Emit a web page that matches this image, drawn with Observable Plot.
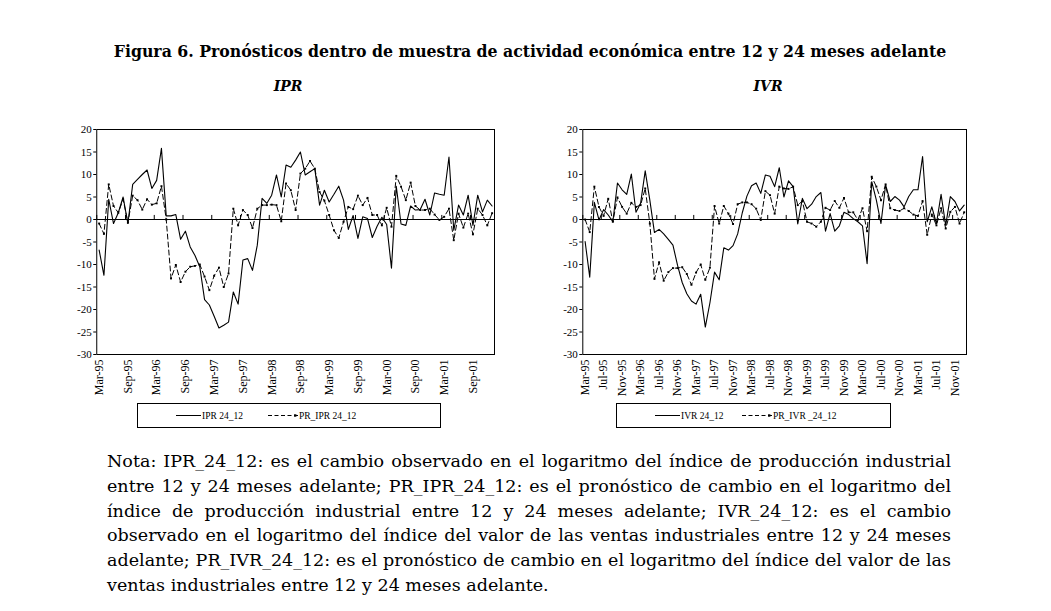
<!DOCTYPE html>
<html>
<head>
<meta charset="utf-8">
<script src="https://cdn.jsdelivr.net/npm/d3@7"></script>
<script src="https://cdn.jsdelivr.net/npm/@observablehq/plot@0.6"></script>
<style>
  html, body { margin: 0; padding: 0; background: #fff; }
  body { width: 1051px; height: 611px; position: relative; overflow: hidden; color: #000; }
  .abs { position: absolute; }
  #title { left: 60px; width: 940px; top: 42px; text-align: center; font-family: "DejaVu Serif", serif; font-weight: bold; font-size: 17px; line-height: 20px; white-space: nowrap; }
  .sub { top: 78px; width: 100px; text-align: center; font-family: "DejaVu Serif", serif; font-style: italic; font-weight: bold; font-size: 14px; line-height: 16px; }
  #note { left: 107px; top: 449px; width: 844px; font-family: "DejaVu Serif", serif; font-size: 17.5px; line-height: 24.8px; }
  #note div { text-align: justify; text-align-last: justify; }
  #note div.last { text-align-last: left; }
  .legend { border: 1px solid #000; box-sizing: border-box; height: 25px; top: 403px; background: #fff; }
  .legend svg { display: block; }
</style>
</head>
<body>
<div id="title" class="abs">Figura 6. Pronósticos dentro de muestra de actividad económica entre 12 y 24 meses adelante</div>
<div class="abs sub" style="left:238px">IPR</div>
<div class="abs sub" style="left:718px">IVR</div>
<div id="chartL" class="abs" style="left:40px; top:115px; width:470px; height:290px"></div>
<div id="chartR" class="abs" style="left:525px; top:115px; width:460px; height:290px"></div>
<div id="legL" class="abs legend" style="left:137px; width:304px"></div>
<div id="legR" class="abs legend" style="left:616px; width:275px"></div>
<div id="note" class="abs"></div>

<script>
// ---- data (monthly, Mar-95 .. Jan-02) ----
const ipr = [-6.8, -12.4, 4.5, -0.9, 1.5, 5.0, -0.9, 7.8, 8.9, 10.0,
  11.0, 6.9, 8.7, 15.8, 0.8, 0.8, 1.1, -4.4, -2.6, -6.1,
  -8.0, -10.5, -17.8, -19.0, -21.5, -24.1, -23.5, -22.8, -16.1, -18.8,
  -9.0, -8.7, -11.3, -5.7, 4.7, 3.6, 5.4, 9.9, 5.0, 12.1,
  11.6, 13.2, 15.0, 9.9, 10.6, 11.3, 3.2, 6.5, 3.9, 5.6,
  7.4, 4.3, -2.2, 0.9, -4.2, 0.6, 0.2, -4.0, -1.5, 0.5,
  -1.1, -10.8, 7.4, -1.0, -1.3, 3.0, 2.1, 2.2, 4.5, 1.0,
  5.9, 5.6, 5.4, 13.9, -2.4, 3.2, 1.0, 5.4, -1.3, 5.4,
  1.7, 4.3, 3.0];

const prIpr = [-0.9, -3.2, 7.8, 3.0, 1.5, 4.5, -0.7, 5.3, 4.3, 2.2,
  4.5, 3.3, 3.6, 7.4, 0.0, -13.1, -10.1, -13.9, -11.6, -10.5,
  -10.3, -10.0, -12.7, -15.7, -12.5, -10.7, -15.0, -12.0, 2.4, -1.3,
  2.1, 1.0, -1.9, 2.4, 3.2, 3.2, 3.3, 3.2, -0.4, 8.0,
  6.5, 2.1, 10.2, 11.3, 13.0, 11.3, 6.1, 4.2, 1.0, -2.4,
  -4.1, -0.5, 2.8, 2.3, 5.3, 3.2, 4.8, 1.0, 1.0, -1.3,
  2.6, -1.6, 9.7, 7.3, 4.3, 8.2, 3.0, 2.1, 2.1, 2.4,
  1.1, -0.1, 0.6, 2.4, -4.6, 1.3, -1.8, 1.3, -3.3, 2.4,
  1.0, -1.3, 1.4];

const ivr = [-4.9, -12.8, 3.8, -0.1, 2.2, 1.0, -0.5, 8.1, 6.6, 5.6,
  10.1, 1.6, 3.6, 10.8, 4.3, -2.9, -2.2, -3.2, -4.4, -5.7,
  -10.2, -14.0, -16.5, -18.1, -18.8, -16.6, -23.9, -18.5, -11.7, -13.4,
  -6.3, -6.8, -5.8, -3.2, 1.5, 5.2, 7.5, 8.1, 5.8, 9.9,
  9.6, 7.3, 11.5, 5.0, 8.6, 7.3, -1.0, 4.7, 2.4, 3.4,
  5.1, 6.0, -2.6, 1.3, -2.6, -1.4, 1.6, 1.1, 0.2, -0.5,
  -1.4, -9.8, 8.4, 4.3, -0.9, 7.7, 4.0, 5.1, 4.3, 2.8,
  5.1, 6.6, 6.6, 14.0, -0.5, 2.8, -0.9, 5.6, -1.3, 5.1,
  4.0, 1.9, 3.2];

const prIvr = [0.0, -2.8, 7.3, 2.8, 0.8, 4.6, -0.5, 4.9, 2.8, 1.3,
  3.7, 2.8, 3.2, 6.9, -0.9, -13.2, -9.5, -13.6, -11.7, -10.8,
  -10.8, -10.6, -12.1, -14.5, -11.8, -10.0, -13.4, -10.7, 3.0, -0.9,
  3.0, 1.3, -1.0, 3.4, 3.8, 3.8, 3.4, 2.4, -0.1, 6.3,
  5.4, 1.3, 7.3, 6.9, 6.8, 7.3, 3.2, 4.1, -0.5, -0.9,
  -1.6, -0.5, 2.6, 2.1, 4.1, 2.6, 4.8, 1.6, 1.6, -0.1,
  2.5, -2.6, 9.5, 7.3, 4.3, 7.8, 2.5, 2.1, 1.9, 2.5,
  1.9, 1.1, 0.8, 4.1, -3.4, 1.1, -1.3, 2.5, -2.0, 1.7,
  2.8, -0.9, 1.6];

const iprTickLabels = ["Mar-95","Sep-95","Mar-96","Sep-96","Mar-97","Sep-97","Mar-98","Sep-98","Mar-99","Sep-99","Mar-00","Sep-00","Mar-01","Sep-01"];
const ivrTickLabels = ["Mar-95","Jul-95","Nov-95","Mar-96","Jul-96","Nov-96","Mar-97","Jul-97","Nov-97","Mar-98","Jul-98","Nov-98","Mar-99","Jul-99","Nov-99","Mar-00","Jul-00","Nov-00","Mar-01","Jul-01","Nov-01"];
const yTicks = [20, 15, 10, 5, 0, -5, -10, -15, -20, -25, -30];

const legendL = ["IPR 24_12", "PR_IPR 24_12"];
const legendR = ["IVR 24_12", "PR_IVR _24_12"];

const noteLines = [
  "Nota: IPR_24_12: es el cambio observado en el logaritmo del índice de producción industrial",
  "entre 12 y 24 meses adelante; PR_IPR_24_12: es el pronóstico de cambio en el logaritmo del",
  "índice de producción industrial entre 12 y 24 meses adelante; IVR_24_12: es el cambio",
  "observado en el logaritmo del índice del valor de las ventas industriales entre 12 y 24 meses",
  "adelante; PR_IVR_24_12: es el pronóstico de cambio en el logaritmo del índice del valor de las",
  "ventas industriales entre 12 y 24 meses adelante."
];

// ---- panels ----
function panel(obs, fc, labels, step, width, ml, mr) {
  const n = obs.length;
  const rows = obs.map((v, i) => ({i, obs: v, fc: fc[i]}));
  const tickIdx = labels.map((_, k) => k * step);
  return Plot.plot({
    width, height: 290,
    marginLeft: ml, marginRight: mr, marginTop: 14, marginBottom: 51,
    style: {fontFamily: "'Liberation Serif', 'Times New Roman', serif", fontSize: "10px", color: "#000", background: "transparent"},
    x: {domain: [-0.5, n - 0.5], axis: null, label: null},
    y: {domain: [-30, 20], axis: null, label: null},
    marks: [
      Plot.frame({stroke: "#000", strokeWidth: 1}),
      Plot.ruleY([0], {stroke: "#000", strokeWidth: 1.2}),
      Plot.ruleX(tickIdx, {x: d => d - 0.5, y1: 0, y2: 0.9, stroke: "#000"}),
      Plot.axisY(yTicks, {anchor: "left", label: null, tickSize: 3, tickPadding: 2, tickFormat: d => String(d), fontSize: 11}),
      Plot.axisX(tickIdx, {anchor: "bottom", label: null, tickSize: 0, tickPadding: 5, tickRotate: -90, tickFormat: d => labels[d / step], fontSize: 12}),
      Plot.line(rows, {x: "i", y: "fc", stroke: "#000", strokeWidth: 1, strokeDasharray: "5,3"}),
      Plot.dot(rows, {x: "i", y: "fc", r: 1.1, fill: "#000", symbol: "square"}),
      Plot.line(rows, {x: "i", y: "obs", stroke: "#000", strokeWidth: 1.1})
    ]
  });
}

document.getElementById("chartL").append(panel(ipr, prIpr, iprTickLabels, 6, 470, 56.25, 16));
document.getElementById("chartR").append(panel(ivr, prIvr, ivrTickLabels, 4, 460, 57.3, 19));

// ---- legends ----
function legend(el, names, w, x1, x2) {
  const svg = `<svg width="${w - 2}" height="23" xmlns="http://www.w3.org/2000/svg" style="font-family:'Liberation Serif',serif;font-size:9.5px">
    <line x1="${x1}" x2="${x1 + 25}" y1="11.5" y2="11.5" stroke="#000" stroke-width="1"/>
    <text x="${x1 + 26}" y="14.5">${names[0]}</text>
    <line x1="${x2}" x2="${x2 + 30}" y1="11.5" y2="11.5" stroke="#000" stroke-width="1" stroke-dasharray="4,2.5"/>
    <rect x="${x2 + 26}" y="10.3" width="2.4" height="2.4" fill="#000"/>
    <text x="${x2 + 31}" y="14.5">${names[1]}</text>
  </svg>`;
  el.innerHTML = svg;
}
legend(document.getElementById("legL"), legendL, 304, 38, 130);
legend(document.getElementById("legR"), legendR, 275, 38, 125);

// ---- note ----
const note = document.getElementById("note");
noteLines.forEach((t, k) => {
  const d = document.createElement("div");
  d.textContent = t;
  if (k === noteLines.length - 1) d.className = "last";
  note.append(d);
});
(function fitText() {
  const m = document.createElement("span");
  m.style.cssText = "position:absolute;visibility:hidden;white-space:nowrap;font-family:'DejaVu Serif',serif;font-size:17.5px";
  document.body.append(m);
  let maxW = 0;
  noteLines.slice(0, -1).forEach(t => { m.textContent = t; maxW = Math.max(maxW, m.getBoundingClientRect().width); });
  m.textContent = noteLines[noteLines.length - 1];
  const lastW = m.getBoundingClientRect().width;
  const fs = Math.min(17.5 * 478 / lastW, 17.5 * 840 / maxW);
  note.style.fontSize = fs.toFixed(2) + "px";
  // title
  m.style.fontWeight = "bold";
  m.style.fontSize = "17px";
  m.textContent = document.getElementById("title").textContent;
  const tw = m.getBoundingClientRect().width;
  const tfs = Math.max(14, Math.min(19, 17 * 833 / tw));
  document.getElementById("title").style.fontSize = tfs.toFixed(2) + "px";
  m.remove();
})();
</script>
</body>
</html>
